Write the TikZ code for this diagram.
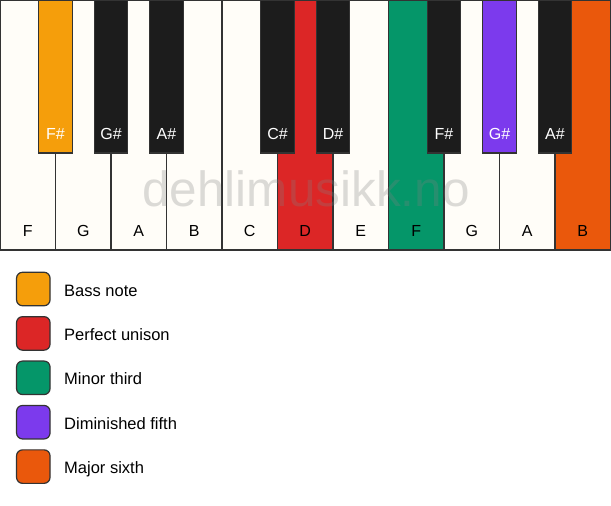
\documentclass[tikz,border=0pt]{standalone}
\usepackage{fontspec}
\setmainfont{Liberation Sans}
\definecolor{cream}{HTML}{FFFDF8}
\definecolor{keyblack}{HTML}{1C1C1C}
\definecolor{edge}{HTML}{333333}
\definecolor{cbass}{HTML}{F59E0B}
\definecolor{cunison}{HTML}{DC2626}
\definecolor{cminor}{HTML}{059669}
\definecolor{cdim}{HTML}{7C3AED}
\definecolor{cmajor}{HTML}{EA580C}
\tikzset{
  whitekey/.style={draw=edge, line width=1.2pt, minimum width=55.5pt, minimum height=250pt, inner sep=0pt, outer sep=0pt, anchor=north west},
  blackkey/.style={draw=edge, line width=1.2pt, minimum width=33.5pt, minimum height=153pt, inner sep=0pt, outer sep=0pt, anchor=north},
  wlabel/.style={font=\fontsize{16}{16}\selectfont, text=black, anchor=base, inner sep=0pt},
  blabel/.style={font=\fontsize{16}{16}\selectfont, text=white, anchor=base, inner sep=0pt},
  swatch/.style={draw=edge, line width=1.2pt, minimum width=33.5pt, minimum height=33.5pt, rounded corners=6pt, inner sep=0pt},
  legtext/.style={font=\fontsize{16.5}{16.5}\selectfont, text=black, anchor=base west, inner sep=0pt},
  watermark/.style={font=\fontsize{49.5}{49.5}\selectfont, text=gray, opacity=0.28, anchor=base, inner sep=0pt}
}
\begin{document}
\begin{tikzpicture}[x=1pt,y=-1pt]
\fill[white] (0,0) rectangle (611,506);
\useasboundingbox (0,0) rectangle (611,506);
% white keys
\foreach \n/\c/\i in {F/cream/0, G/cream/1, A/cream/2, B/cream/3, C/cream/4, D/cunison/5, E/cream/6, F/cminor/7, G/cream/8, A/cream/9, B/cmajor/10}{
  \node[whitekey, fill=\c] (w\i) at (55.5*\i, 0) {};
  \node[wlabel] (wl\i) at ([yshift=14pt]w\i.south) {\n};
}
% watermark
\node[watermark] (wm) at (306, 206.7) {dehlimusikk.no};
% black keys
\foreach \n/\c/\i in {F\#/cbass/1, G\#/keyblack/2, A\#/keyblack/3, C\#/keyblack/5, D\#/keyblack/6, F\#/keyblack/8, G\#/cdim/9, A\#/keyblack/10}{
  \node[blackkey, fill=\c] (b\i) at (55.5*\i, 0) {};
  \node[blabel] (bl\i) at ([yshift=14pt]b\i.south) {\n};
}
% legend
\foreach \c/\t/\k in {cbass/Bass note/1, cunison/Perfect unison/2, cminor/Minor third/3, cdim/Diminished fifth/4, cmajor/Major sixth/5}{
  \node[swatch, fill=\c] (s\k) at (33.3, 289+44.4*\k-44.4) {};
  \node[legtext] (t\k) at (64, 296+44.4*\k-44.4) {\t};
}
\end{tikzpicture}
\end{document}
